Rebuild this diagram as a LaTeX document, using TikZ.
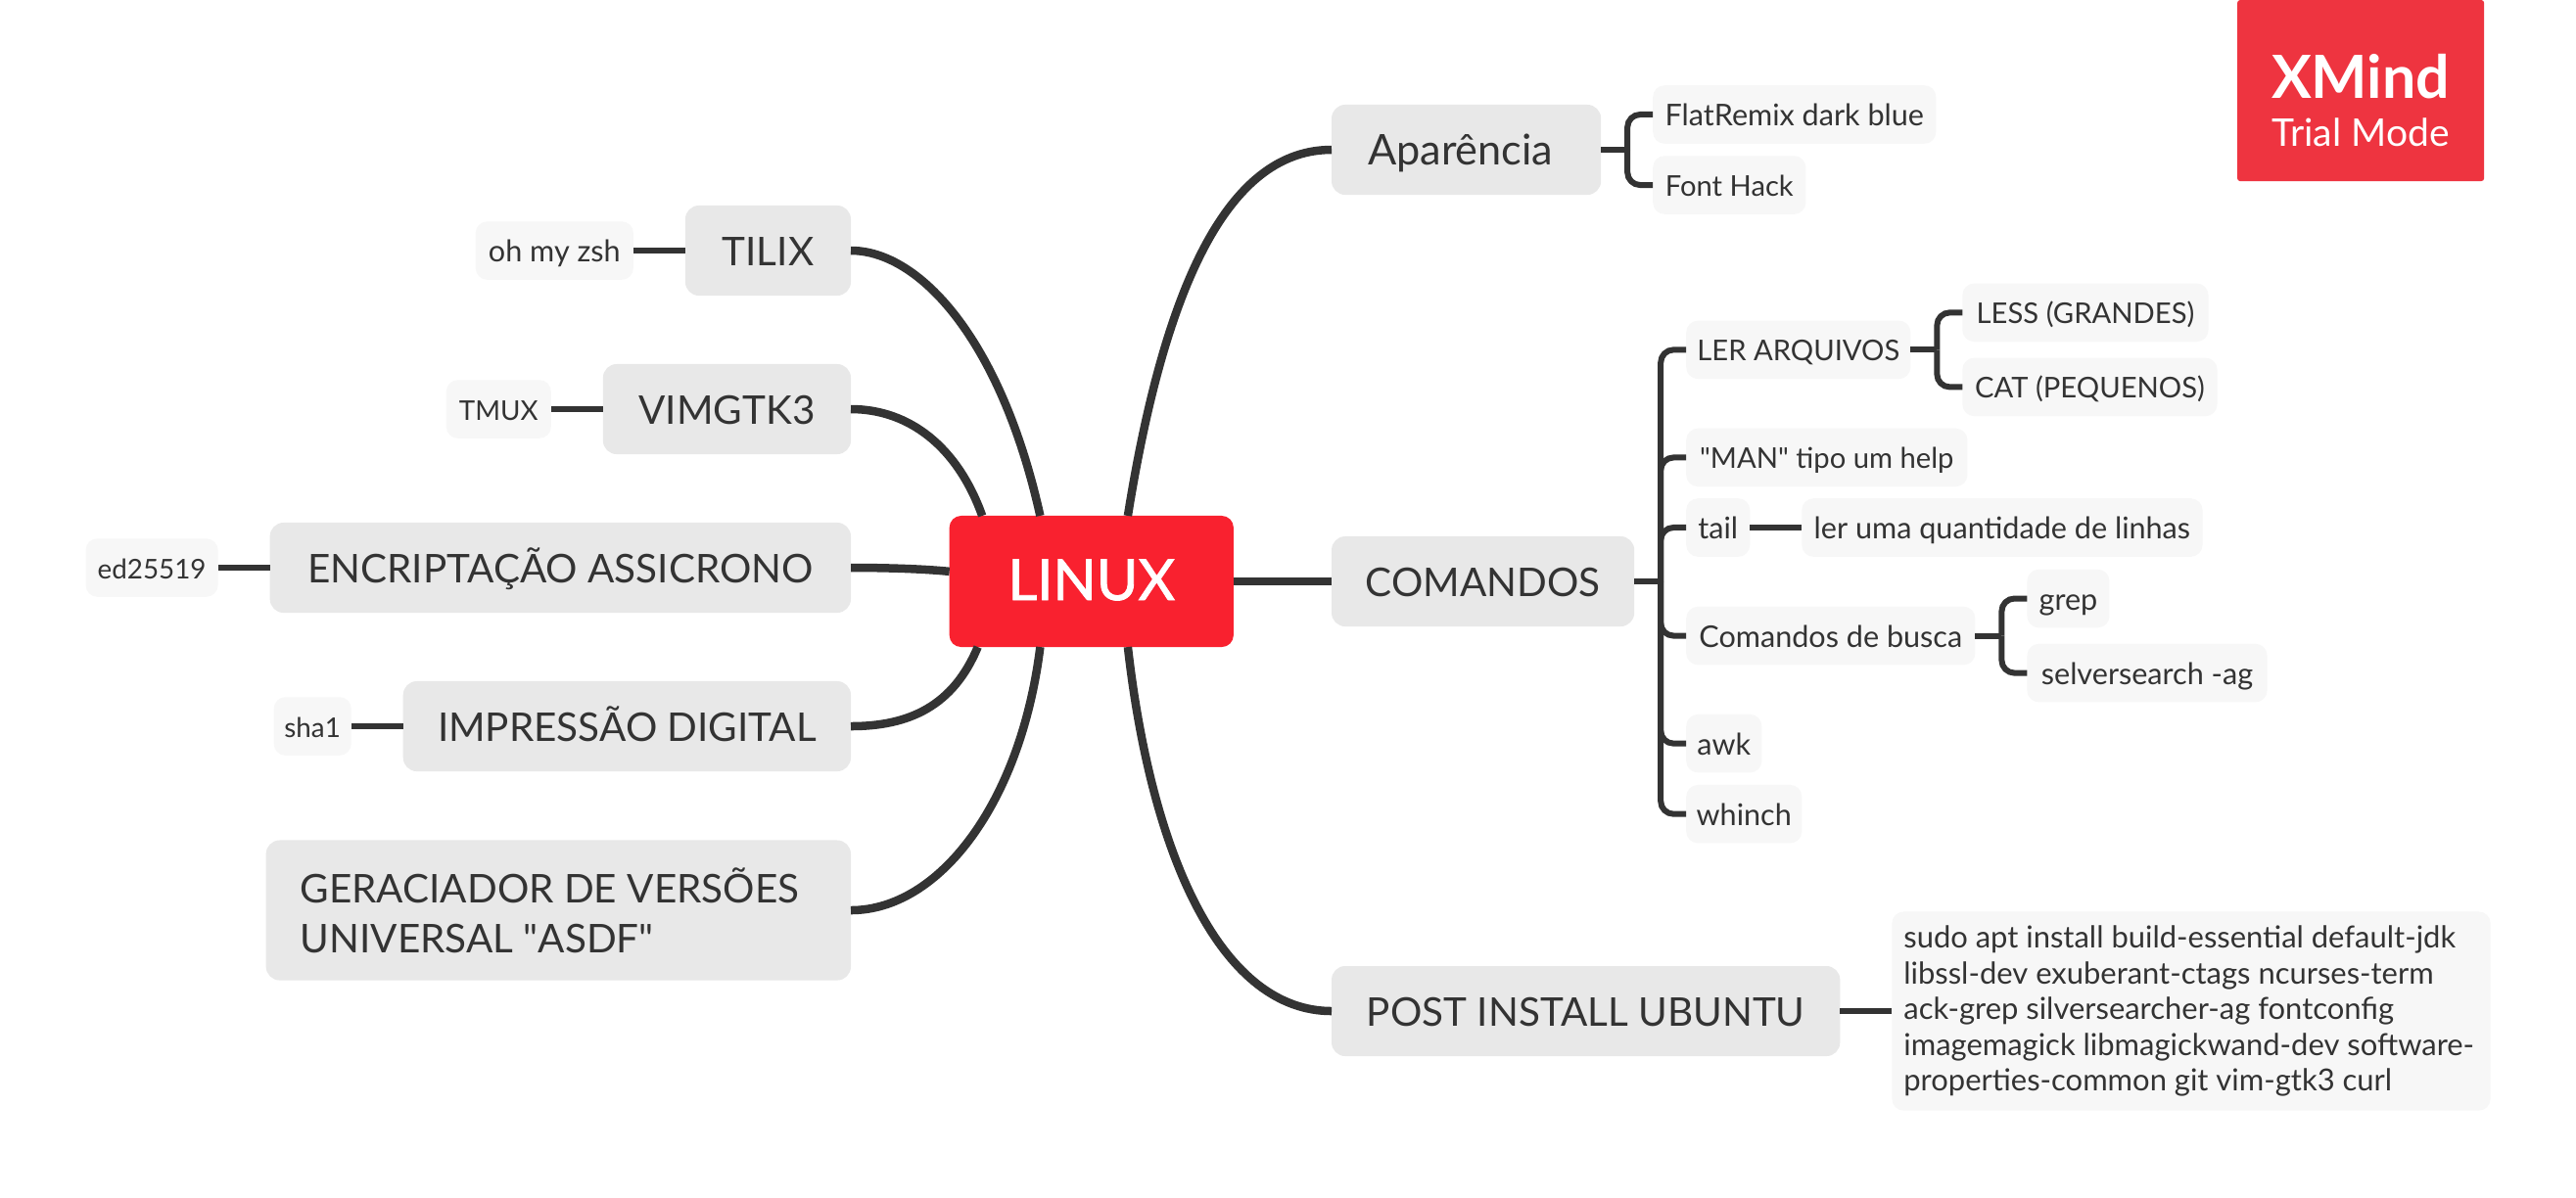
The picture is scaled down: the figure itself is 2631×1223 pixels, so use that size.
\documentclass[tikz,border=0pt]{standalone}
\usepackage{fontspec}
\setmainfont{Lato}
\newfontfamily\rootfont{Lato}[FakeBold=1.5]
\usetikzlibrary{positioning}
\definecolor{ink}{HTML}{333333}
\definecolor{rootred}{HTML}{F9212F}
\definecolor{markred}{HTML}{EE3440}
\definecolor{topicgray}{HTML}{E8E8E8}
\definecolor{subgray}{HTML}{F7F7F7}
\tikzset{
  root/.style={rectangle,rounded corners=0.12cm,fill=rootred,text=white,inner sep=0pt,outer sep=0pt,
    minimum width=2.9cm,minimum height=1.34cm,text height=0.46cm,text depth=0.08cm,
    font=\rootfont\fontsize{16.5}{20}\selectfont},
  topic/.style={rectangle,rounded corners=0.14cm,fill=topicgray,text=ink,inner sep=0pt,outer sep=0pt,
    minimum height=0.92cm,text height=0.36cm,text depth=0.06cm,align=flush left,
    font=\fontsize{11.5}{14.5}\selectfont},
  sub/.style={rectangle,rounded corners=0.12cm,fill=subgray,text=ink,inner sep=0pt,outer sep=0pt,
    minimum height=0.595cm,text height=0.27cm,text depth=0.04cm,align=flush left,
    font=\fontsize{8.7}{10.4}\selectfont},
  subcaps/.style={sub,font=\fontsize{8.3}{10.4}\selectfont},
  subtight/.style={sub,font=\fontsize{7.9}{10.4}\selectfont},
  multi/.style={text height={},text depth={}},
  limb/.style={draw=ink,line width=0.085cm},
  twig/.style={draw=ink,line width=0.06cm},
  elbow/.style={twig,rounded corners=0.13cm},
}
\begin{document}
\begin{tikzpicture}[x=0.01cm,y=-0.01cm]
\path[use as bounding box,fill=white] (0,0) rectangle (2631,1223);
\node[root] (linux) at (1114.75,594) {LINUX};
% left side
\node[topic,anchor=east,minimum width=1.69cm] (tilix) at (869,256) {TILIX};
\node[topic,anchor=east,minimum width=2.53cm] (vim) at (869,418) {VIMGTK3};
\node[topic,anchor=east,minimum width=5.93cm] (enc) at (869,580) {ENCRIPTAÇÃO ASSICRONO};
\node[topic,anchor=east,minimum width=4.57cm] (imp) at (869,742) {IMPRESSÃO DIGITAL};
\node[topic,multi,anchor=east,text width=5.27cm,minimum width=5.97cm,minimum height=1.43cm] (ger) at (869,930) {GERACIADOR DE VERSÕES\\UNIVERSAL \textquotedbl ASDF\textquotedbl};
\node[sub,left=0.53cm of tilix,minimum width=1.61cm] (zsh) {oh my zsh};
\node[subtight,left=0.53cm of vim,minimum width=1.07cm] (tmux) {TMUX};
\node[subtight,left=0.53cm of enc,minimum width=1.35cm] (ed) {ed25519};
\node[subtight,left=0.53cm of imp,minimum width=0.79cm] (sha) {sha1};
% right side
\node[topic,anchor=west,text width=2.01cm,minimum width=2.75cm,font=\fontsize{12.3}{14.5}\selectfont] (apar) at (1360,153) {Aparência};
\node[topic,anchor=west,minimum width=3.09cm] (cmd) at (1360,594) {COMANDOS};
\node[topic,anchor=west,minimum width=5.19cm] (post) at (1360,1033) {POST INSTALL UBUNTU};
\node[sub,right=0.53cm of apar,yshift=0.36cm,minimum width=2.89cm] (flat) {FlatRemix dark blue};
\node[subcaps,right=0.53cm of apar,yshift=-0.36cm,minimum width=1.56cm] (hack) {Font Hack};
\node[subcaps,right=0.53cm of cmd,yshift=2.365cm,minimum width=2.29cm] (ler) {LER ARQUIVOS};
\node[subcaps,right=0.53cm of cmd,yshift=1.265cm,minimum width=2.87cm] (man) {\textquotedbl MAN\textquotedbl{} tipo um help};
\node[sub,right=0.53cm of cmd,yshift=0.55cm,minimum width=0.65cm] (tail) {tail};
\node[sub,right=0.53cm of cmd,yshift=-0.555cm,minimum width=2.95cm] (busca) {Comandos de busca};
\node[sub,right=0.53cm of cmd,yshift=-1.655cm,minimum width=0.77cm] (awk) {awk};
\node[sub,right=0.53cm of cmd,yshift=-2.375cm,minimum width=1.18cm] (whinch) {whinch};
\node[subcaps,right=0.53cm of ler,yshift=0.38cm,minimum width=2.51cm] (less) {LESS (GRANDES)};
\node[subcaps,right=0.53cm of ler,yshift=-0.38cm,minimum width=2.6cm] (cat) {CAT (PEQUENOS)};
\node[sub,right=0.53cm of tail,minimum width=4.09cm] (linhas) {ler uma quantidade de linhas};
\node[sub,right=0.53cm of busca,yshift=0.38cm,minimum width=0.84cm] (grep) {grep};
\node[sub,right=0.53cm of busca,yshift=-0.38cm,minimum width=2.45cm] (selver) {selversearch -ag};
\node[sub,multi,right=0.53cm of post,text width=5.87cm,minimum width=6.11cm,minimum height=2.03cm,font=\fontsize{8.8}{10.4}\selectfont] (sudo) {\mbox{sudo apt install build-essential default-jdk}\\libssl-dev exuberant-ctags ncurses-term\\ack-grep silversearcher-ag fontconfig\\\mbox{imagemagick libmagickwand-dev software-}\\properties-common git vim-gtk3 curl};
% trial mark
\node[rectangle,rounded corners=0.03cm,fill=markred,text=white,align=center,inner sep=0pt,outer sep=0pt,anchor=north west,
  minimum width=2.52cm,minimum height=1.85cm] (mark) at (2285,0)
  {{\rule{0pt}{18.5pt}\fontsize{17.3}{20}\selectfont\bfseries XMind}\\[0.06cm]{\fontsize{11.1}{12}\selectfont Trial Mode}};
% hubs
\coordinate[right=0.27cm of apar] (aparhub);
\coordinate[right=0.27cm of cmd] (cmdhub);
\coordinate[right=0.27cm of ler] (lerhub);
\coordinate[right=0.27cm of busca] (buscahub);
% root links
\draw[limb] (linux.128) .. controls +(-40,-180) and +(70,0) .. (tilix.east);
\draw[limb] (linux.149) .. controls +(-25,-70) and +(60,0) .. (vim.east);
\draw[limb] (linux.176) .. controls +(-30,-3) and +(30,0) .. (enc.east);
\draw[limb] (linux.210) .. controls +(-25,60) and +(60,0) .. (imp.east);
\draw[limb] (linux.232) .. controls +(-20,160) and +(90,0) .. (ger.east);
\draw[limb] (linux.61) .. controls +(40,-250) and +(-100,0) .. (apar.west);
\draw[limb] (linux.east) -- (cmd.west);
\draw[limb] (linux.299) .. controls +(25,220) and +(-110,0) .. (post.west);
% branches
\draw[twig] (tilix) -- (zsh);
\draw[twig] (vim) -- (tmux);
\draw[twig] (enc) -- (ed);
\draw[twig] (imp) -- (sha);
\draw[twig] (post) -- (sudo);
\draw[twig] (tail) -- (linhas);
\draw[twig] (apar) -- (aparhub);
\draw[twig] (cmd) -- (cmdhub);
\draw[twig] (ler) -- (lerhub);
\draw[twig] (busca) -- (buscahub);
\draw[elbow] (flat.west) -| (aparhub);
\draw[elbow] (hack.west) -| (aparhub);
\draw[elbow] (less.west) -| (lerhub);
\draw[elbow] (cat.west) -| (lerhub);
\draw[elbow] (grep.west) -| (buscahub);
\draw[elbow] (selver.west) -| (buscahub);
\foreach \leaf in {ler,man,tail,busca,awk,whinch}
  \draw[elbow] (\leaf.west) -| (cmdhub);
\end{tikzpicture}
\end{document}
